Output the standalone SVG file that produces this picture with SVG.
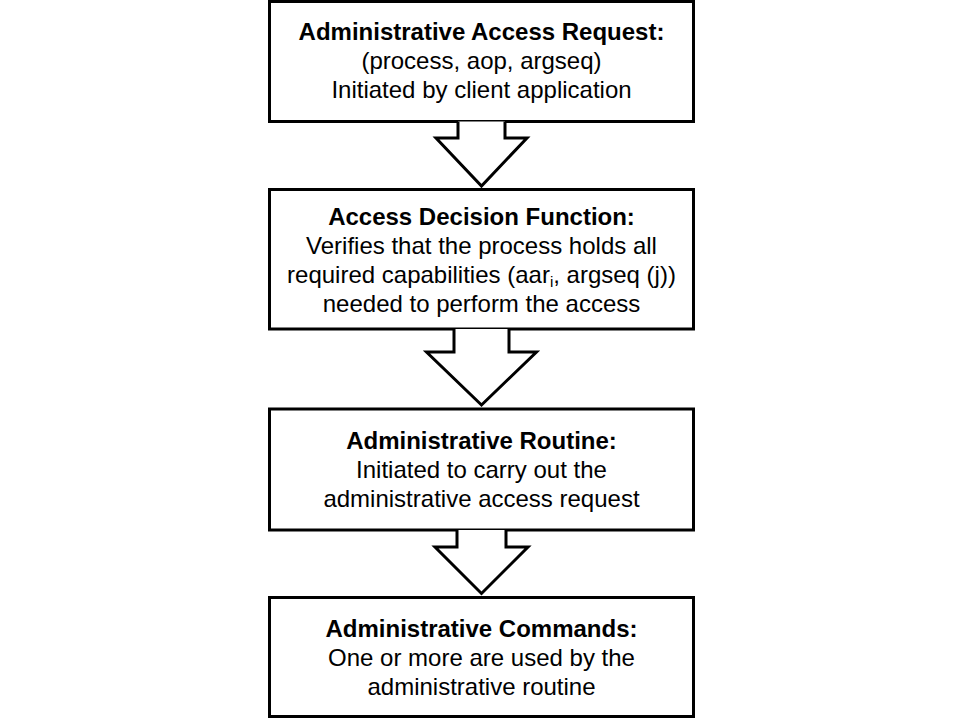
<svg xmlns="http://www.w3.org/2000/svg" width="960" height="720" viewBox="0 0 960 720">
<style>
.box{fill:#fff;stroke:#000;stroke-width:3}
.arr{fill:#fff;stroke:#000;stroke-width:3;stroke-linejoin:miter}
text{font-family:"Liberation Sans",Arial,sans-serif;font-size:24px;fill:#000;text-anchor:middle}
.b{font-weight:bold}
</style>
<rect width="960" height="720" fill="#fff"/>
<g id="node-request">
<rect class="box" x="269.5" y="1.5" width="424" height="120"/>
<text x="481.5" y="40" class="b">Administrative Access Request:</text>
<text x="481.5" y="69">(process, aop, argseq)</text>
<text x="481.5" y="98">Initiated by client application</text>
</g>
<g id="node-decision">
<rect class="box" x="269.5" y="189.5" width="424" height="139.5"/>
<text x="481.5" y="225" class="b">Access Decision Function:</text>
<text x="481.5" y="254">Verifies that the process holds all</text>
<text x="481.5" y="283">required capabilities (aar<tspan font-size="15" dy="4">i</tspan><tspan dy="-4">, argseq (j))</tspan></text>
<text x="481.5" y="312">needed to perform the access</text>
</g>
<g id="node-routine">
<rect class="box" x="269.5" y="409" width="424" height="121"/>
<text x="481.5" y="449" class="b">Administrative Routine:</text>
<text x="481.5" y="478">Initiated to carry out the</text>
<text x="481.5" y="507">administrative access request</text>
</g>
<g id="node-commands">
<rect class="box" x="269.5" y="597.5" width="424" height="119"/>
<text x="481.5" y="637" class="b">Administrative Commands:</text>
<text x="481.5" y="666">One or more are used by the</text>
<text x="481.5" y="695">administrative routine</text>
</g>
<g id="connectors">
<path class="arr" d="M458,121.5 V138 H436 L481.5,186 L527,138 H505 V121.5"/>
<path class="arr" d="M454,329 V352 H426.5 L481.5,405 L536.5,352 H509 V329"/>
<path class="arr" d="M457,530 V547 H435 L481.5,593.5 L528,547 H506 V530"/>
</g>
</svg>
